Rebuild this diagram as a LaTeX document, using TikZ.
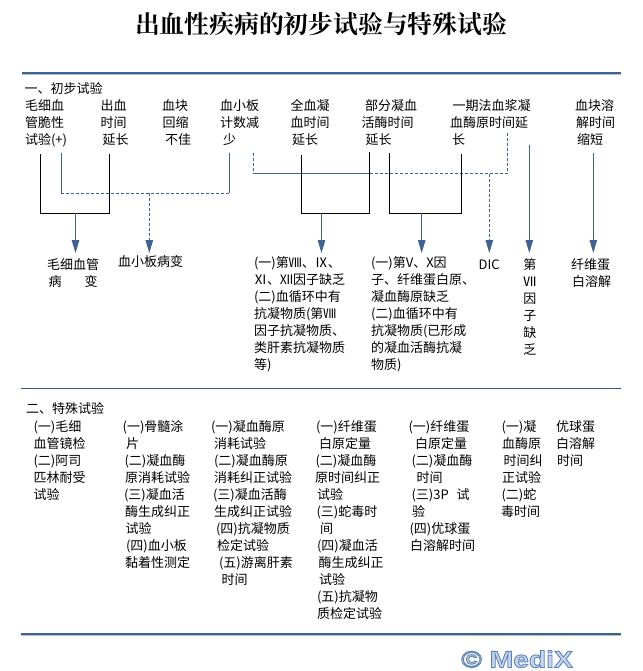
\documentclass[tikz,border=0pt]{standalone}
\usepackage{fontspec}
\setmainfont{Noto Sans CJK SC}
\newfontfamily\titlefont{Noto Serif CJK SC}
\newfontfamily\logofont[FakeStretch=1.2]{Liberation Sans}
\usetikzlibrary{arrows.meta}
\definecolor{rulec}{HTML}{3F6390}
\definecolor{shadec}{HTML}{B4BCC8}
\definecolor{logoc}{HTML}{C4D5EC}
\newcommand{\ind}[1]{\hspace*{#1pt}}
\tikzset{
 x=1pt,y=-1pt,
 txt/.style={anchor=north west,inner sep=0pt,outer sep=0pt,align=left,text=black,
   font=\fontsize{13}{17}\selectfont,execute at begin node={\rule{0pt}{11pt}}},
 bar/.style={draw=rulec,line width=1.6pt},
 barshade/.style={draw=shadec,line width=1pt},
 thinbar/.style={draw=rulec!85!black,line width=0.9pt},
 bracket/.style={draw=black,line width=0.9pt},
 link/.style={draw=rulec,line width=0.9pt},
 dlink/.style={draw=rulec,line width=0.9pt,dash pattern=on 3pt off 2pt},
 tip/.style={-{Triangle[length=13pt,width=7.5pt,fill=rulec]}},
}
\newcommand{\blk}[4]{\node[txt] (#1) at (#2,#3-6.1) {#4};}
\begin{document}
\begin{tikzpicture}
\useasboundingbox (0,0) rectangle (642,671);
\node[inner sep=0pt,font=\titlefont\fontsize{24.8}{28}\selectfont\bfseries] (title) at (321,24) {出血性疾病的初步试验与特殊试验};
% rules
\coordinate (r1a) at (22,73); \coordinate (r1b) at (621,73);
\coordinate (r2a) at (21,388.3); \coordinate (r2b) at (621,388.3);
\coordinate (r3a) at (21,634); \coordinate (r3b) at (621,634);
\draw[barshade] ([yshift=-1.2pt]r1a) -- ([yshift=-1.2pt]r1b);
\draw[barshade] ([yshift=-1.2pt]r3a) -- ([yshift=-1.2pt]r3b);
\draw[bar] (r1a) -- (r1b);
\draw[thinbar] (r2a) -- (r2b);
\draw[bar] (r3a) -- (r3b);
% section 1
\blk{s1}{24.5}{88.5}{一、初步试验}
\blk{a}{25}{105.7}{毛细血\\管脆性\\试验(+)}
\blk{b}{100.5}{105.7}{出血\\时间\\\ind{2}延长}
\blk{c}{162}{105.7}{血块\\\ind{0.5}回缩\\\ind{3}不佳}
\blk{d}{220}{105.7}{血小板\\计数减\\\ind{3}少}
\blk{e}{290.7}{105.7}{全血凝\\血时间\\\ind{1.3}延长}
\blk{f}{361.7}{105.7}{\ind{3.3}部分凝血\\活酶时间\\\ind{4}延长}
\blk{g}{450}{105.7}{\ind{2.7}一期法血浆凝\\血酶原时间延\\\ind{2}长}
\blk{h}{575}{105.7}{血块溶\\\ind{1}解时间\\\ind{2}缩短}
% results
\blk{ra}{47}{265}{毛细血管\\\ind{1.7}病\hspace{23pt}变}
\blk{rb}{118}{262}{血小板病变}
\blk{rc}{254}{262.7}{(一)第Ⅷ、Ⅸ、\\Ⅺ、Ⅻ因子缺乏\\(二)血循环中有\\抗凝物质(第Ⅷ\\因子抗凝物质、\\类肝素抗凝物质\\等)}
\blk{rd}{371}{262.7}{(一)第V、X因\\子、纤维蛋白原、\\凝血酶原缺乏\\(二)血循环中有\\抗凝物质(已形成\\的凝血活酶抗凝\\物质)}
\blk{re}{478.7}{265}{DIC}
\blk{rf}{523.3}{265}{第\\Ⅶ\\因\\子\\缺\\乏}
\blk{rg}{571}{265}{纤维蛋\\\ind{1}白溶解}
% connector points
\coordinate (A1) at (40.6,154); \coordinate (A2) at (40.6,213.3);
\coordinate (A3) at (109.4,213.3); \coordinate (A4) at (109.4,154);
\coordinate (A5) at (75.5,213.3); \coordinate (A6) at (75.5,253);
\coordinate (B1) at (61.3,153); \coordinate (B2) at (61.3,193.3);
\coordinate (B3) at (229.5,193.3); \coordinate (B4) at (229.5,153);
\coordinate (B5) at (149.3,193.3); \coordinate (B6) at (149.3,253);
\coordinate (C1) at (253.5,153); \coordinate (C2) at (253.5,173.5);
\coordinate (C3) at (370,173.5); \coordinate (C4) at (507.3,173.5);
\coordinate (C5) at (507.3,133); \coordinate (C6) at (489.3,173.5);
\coordinate (C7) at (489.3,253);
\coordinate (D1) at (301.7,155); \coordinate (D2) at (301.7,213.3);
\coordinate (D3) at (369.7,213.3); \coordinate (D4) at (369.7,151.7);
\coordinate (D5) at (321.5,213.3); \coordinate (D6) at (321.5,253);
\coordinate (E1) at (389.3,153); \coordinate (E2) at (389.3,213.3);
\coordinate (E3) at (461.3,213.3); \coordinate (E4) at (461.3,154);
\coordinate (E5) at (421.7,213.3); \coordinate (E6) at (421.7,253);
\coordinate (F1) at (529.3,145); \coordinate (F2) at (529.3,253);
\coordinate (G1) at (593.3,153); \coordinate (G2) at (593.3,253);
% connectors
\draw[bracket] (A1) -- (A2) -- (A3) -- (A4);
\draw[link,tip] (A5) -- (A6);
\draw[link] (B1) -- (B2);
\draw[dlink] (B2) -- (B3);
\draw[link] (B3) -- (B4);
\draw[dlink,tip] (B5) -- (B6);
\draw[dlink] (C1) -- (C2);
\draw[link] (C2) -- (C3);
\draw[dlink] (C3) -- (C4) -- (C5);
\draw[dlink,tip] (C6) -- (C7);
\draw[bracket] (D1) -- (D2) -- (D3) -- (D4);
\draw[link,tip] (D5) -- (D6);
\draw[bracket] (E1) -- (E2) -- (E3) -- (E4);
\draw[link,tip] (E5) -- (E6);
\draw[link,tip] (F1) -- (F2);
\draw[link,tip] (G1) -- (G2);
% section 2
\blk{s2}{26}{409}{二、特殊试验}
\blk{k1}{33.5}{426.7}{(一)毛细\\血管镜检\\(二)阿司\\匹林耐受\\试验}
\blk{k2}{122.7}{426.7}{(一)骨髓涂\\\ind{3.3}片\\\ind{1.8}(二)凝血酶\\\ind{2.3}原消耗试验\\\ind{1.3}(三)凝血活\\\ind{2.3}酶生成纠正\\\ind{2.8}试验\\\ind{3.3}(四)血小板\\\ind{2.3}黏着性测定}
\blk{k3}{211}{426.7}{(一)凝血酶原\\\ind{3}消耗试验\\\ind{3}(二)凝血酶原\\\ind{3}消耗纠正试验\\\ind{2}(三)凝血活酶\\\ind{3}生成纠正试验\\\ind{5}(四)抗凝物质\\\ind{6}检定试验\\\ind{8}(五)游离肝素\\\ind{10.5}时间}
\blk{k4}{315}{426.7}{\ind{1}(一)纤维蛋\\\ind{4}白原定量\\\ind{0.5}(二)凝血酶\\原时间纠正\\\ind{2}试验\\\ind{1.5}(三)蛇毒时\\\ind{5}间\\\ind{2}(四)凝血活\\\ind{3.5}酶生成纠正\\\ind{4}试验\\\ind{2}(五)抗凝物\\\ind{2}质检定试验}
\blk{k5}{408.5}{426.7}{(一)纤维蛋\\\ind{6.5}白原定量\\\ind{3}(二)凝血酶\\\ind{8}时间\\\ind{3}(三)3P\hspace{8pt}试\\\ind{3.5}验\\\ind{1}(四)优球蛋\\\ind{1.5}白溶解时间}
\blk{k6}{501}{426.7}{\ind{0.5}(一)凝\\\ind{1}血酶原\\\ind{2.5}时间纠\\\ind{1}正试验\\\ind{0.5}(二)蛇\\毒时间}
\blk{k7}{556}{426.7}{优球蛋\\白溶解\\\ind{1}时间}
% logo
\node[anchor=base west,inner sep=0pt,text=logoc,font=\logofont\bfseries\fontsize{23.5}{24}\selectfont] (logo) at (461,667.5)
 {\special{pdf:code q 2 Tr 0.9 w 0.37 0.52 0.72 RG}© MediX\special{pdf:code 0 Tr Q}};
\end{tikzpicture}
\end{document}
